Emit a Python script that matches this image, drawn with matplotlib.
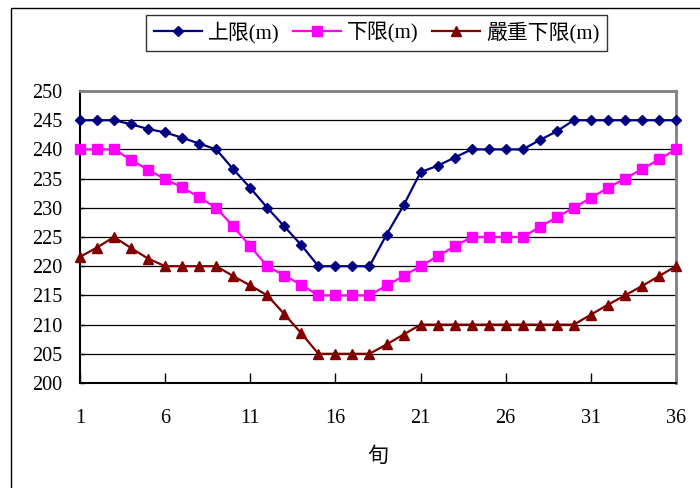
import matplotlib.pyplot as plt
from matplotlib.patches import Rectangle

plt.rcParams['font.family'] = ['Liberation Serif', 'Noto Sans CJK TC', 'DejaVu Sans']

# 旬 index 1..36
xun = list(range(1, 37))

upper = [245, 245, 245, 244.3, 243.5, 242.9, 242.0, 241.0, 240.0, 236.6,
         233.4, 230.0, 226.8, 223.6, 220.0, 220.0, 220.0, 220.0, 225.4, 230.4,
         236.1, 237.2, 238.6, 240.0, 240.0, 240.0, 240.0, 241.6, 243.1, 245.0,
         245, 245, 245, 245, 245, 245]

lower = [240, 240, 240, 238.2, 236.5, 234.9, 233.5, 231.8, 230.0, 226.8,
         223.4, 220.0, 218.4, 216.8, 215, 215, 215, 215, 216.7, 218.3,
         220.0, 221.7, 223.4, 225, 225, 225, 225, 226.7, 228.4, 230.0,
         231.7, 233.4, 235.0, 236.6, 238.3, 240]

severe = [221.6, 223.2, 225, 223.1, 221.3, 220, 220, 220, 220, 218.3,
          216.7, 215.0, 211.8, 208.5, 205, 205, 205, 205, 206.6, 208.3,
          210, 210, 210, 210, 210, 210, 210, 210, 210, 210,
          211.7, 213.4, 215.0, 216.6, 218.3, 220]

fig = plt.figure(figsize=(7, 4.88), dpi=100)
ax = fig.add_axes([80 / 700, 1 - 383 / 488, 596 / 700, 292 / 488])

# outer frame of the chart area
fig.patches.append(Rectangle((11 / 700, -0.1), 1.2, 1 - 8 / 488 + 0.1,
                             transform=fig.transFigure, fill=False,
                             edgecolor='black', linewidth=1.0))

ax.plot(xun, upper, color='#000080', marker='D', markersize=5.5, linewidth=1.6,
        label='上限(m)', clip_on=False, zorder=5)
ax.plot(xun, lower, color='#FF00FF', marker='s', markersize=7, linewidth=1.6,
        label='下限(m)', clip_on=False, zorder=5)
ax.plot(xun, severe, color='#800000', marker='^', markersize=7.5, linewidth=1.6,
        label='嚴重下限(m)', clip_on=False, zorder=5)

ax.set_xlim(1, 36)
ax.set_ylim(200, 250)
ax.set_xticks(range(1, 37, 5))
ax.set_yticks(range(200, 251, 5))
ax.yaxis.grid(True, color='black', linewidth=0.9)
ax.set_axisbelow(True)

ax.tick_params(axis='x', direction='in', length=7, width=1, pad=19, labelsize=14.5)
ax.tick_params(axis='y', direction='in', length=3, width=1, pad=13, labelsize=14.5)

for side in ('left', 'bottom'):
    ax.spines[side].set_color('black')
    ax.spines[side].set_linewidth(1.5)
for side in ('top', 'right'):
    ax.spines[side].set_color('#808080')
    ax.spines[side].set_linewidth(2)

ax.set_xlabel('旬', fontsize=15, labelpad=14)

leg = ax.legend(loc='lower center', bbox_to_anchor=(0.498, 1.137), ncol=3,
                fontsize=15, frameon=True, fancybox=False, edgecolor='black',
                handlelength=2.3, handletextpad=0.3, columnspacing=0.65,
                borderpad=0.35, borderaxespad=0)
leg.get_frame().set_linewidth(1.0)

fig.savefig('out.png', dpi=100)
